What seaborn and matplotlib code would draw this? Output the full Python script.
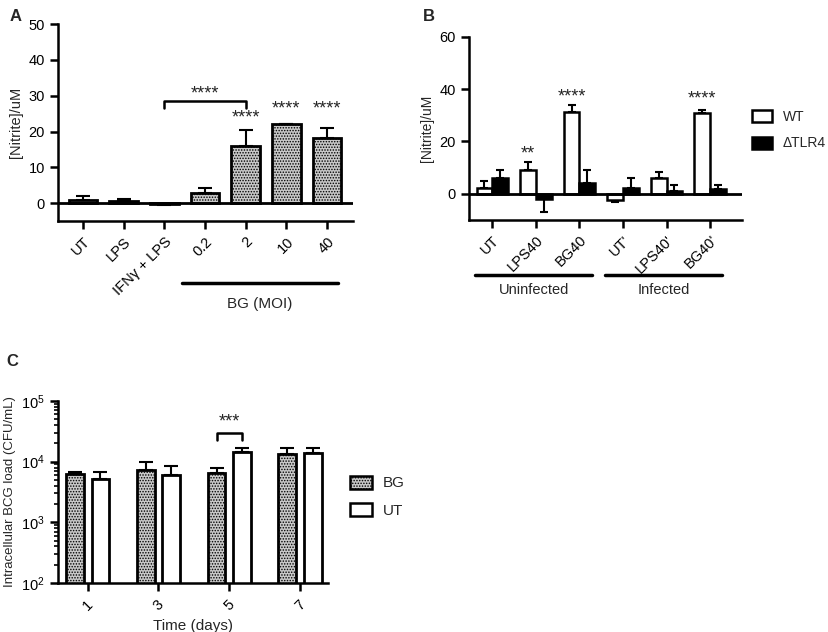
import pandas as pd
import seaborn as sns
import matplotlib.pyplot as plt
import numpy as np
from matplotlib.transforms import blended_transform_factory

# Panel A: nitrite, BG dose response
a_labels = ["UT", "LPS", "IFNγ + LPS", "0.2", "2", "10", "40"]
a_mean = [1.0, 0.6, -0.3, 3.0, 16.0, 22.0, 18.3]
a_err = [1.0, 0.5, 0.1, 1.2, 4.5, 0.2, 2.8]

# Panel B: nitrite WT vs TLR4 knockout
b_labels = ["UT", "LPS40", "BG40", "UT'", "LPS40'", "BG40'"]
b_wt = [2.3, 9.2, 31.3, -2.4, 6.1, 30.8]
b_wt_err = [2.5, 3.1, 2.7, 0.8, 2.1, 1.2]
b_tlr4 = [6.0, -1.9, 4.2, 2.3, 0.9, 2.0]
b_tlr4_err = [2.9, 5.1, 4.7, 3.8, 2.3, 1.2]

# Panel C: intracellular BCG load
c_days = ["1", "3", "5", "7"]
c_bg = [6270, 7290, 6420, 13400]
c_bg_err = [400, 2460, 1540, 3200]
c_ut = [5180, 6100, 14600, 14100]
c_ut_err = [1490, 2280, 2000, 2900]

sns.set_theme(style="ticks")
plt.rcParams["font.family"] = ["Liberation Sans", "DejaVu Sans"]
plt.rcParams["hatch.linewidth"] = 0.7
plt.rcParams["axes.linewidth"] = 1.8
for k in ["xtick", "ytick"]:
    plt.rcParams[k + ".major.width"] = 1.8
    plt.rcParams[k + ".major.size"] = 6
    plt.rcParams[k + ".minor.width"] = 1.2
    plt.rcParams[k + ".minor.size"] = 3
    plt.rcParams[k + ".labelsize"] = 10.5
    plt.rcParams[k + ".color"] = "black"
    plt.rcParams[k + ".labelcolor"] = "black"
plt.rcParams["axes.edgecolor"] = "black"

STIPPLE = "#c8c8c8"
HATCH = "......"
STAR = 13

fig = plt.figure(figsize=(8.29, 6.32), dpi=100)
axA = fig.add_axes([0.070, 0.650, 0.356, 0.312])
axB = fig.add_axes([0.566, 0.652, 0.329, 0.290])
axC = fig.add_axes([0.070, 0.0775, 0.326, 0.288])


def err_bars(ax, xs, ys, es, capsize):
    for x, y, e in zip(xs, ys, es):
        yerr = [[0], [e]] if y >= 0 else [[e], [0]]
        ax.errorbar([x], [y], yerr=yerr, fmt="none", ecolor="black",
                    elinewidth=1.5, capsize=capsize, capthick=1.5, zorder=1)


def centers(ax):
    return [p.get_x() + p.get_width() / 2 for p in ax.patches]


# ---------- A ----------
dfa = pd.DataFrame({"cond": a_labels, "val": a_mean})
sns.barplot(data=dfa, x="cond", y="val", ax=axA, color=STIPPLE, width=0.7,
            errorbar=None, edgecolor="black", linewidth=2, zorder=2)
for p in axA.patches:
    p.set_hatch(HATCH)
xa = centers(axA)
err_bars(axA, xa, a_mean, a_err, 5)
axA.axhline(0, color="black", lw=2, zorder=3)
axA.set_ylim(-5, 50)
axA.set_xlim(-0.61, 6.64)
axA.set_yticks([0, 10, 20, 30, 40, 50])
axA.set_xlabel("")
axA.set_ylabel("[Nitrite]/uM", fontsize=10.5)
axA.set_xticks(range(len(a_labels)))
axA.set_xticklabels(a_labels, rotation=45, ha="right", rotation_mode="anchor")
sns.despine(ax=axA)
# bracket IFN + LPS vs 2
axA.plot([xa[2], xa[2], xa[4], xa[4]], [26.6, 28.4, 28.4, 26.6], color="black", lw=1.8)
axA.text((xa[2] + xa[4]) / 2, 28.2, "****", ha="center", va="bottom", fontsize=STAR)
for i, yy in [(4, 21.5), (5, 24.0), (6, 24.0)]:
    axA.text(xa[i], yy, "****", ha="center", va="bottom", fontsize=STAR)
trA = blended_transform_factory(axA.transData, axA.transAxes)
axA.plot([2.43, 6.27], [-0.315, -0.315], color="black", lw=2.5,
         transform=trA, clip_on=False)
axA.text(4.35, -0.42, "BG (MOI)", transform=trA, ha="center", va="center", fontsize=11)
fig.text(0.012, 0.985, "A", fontsize=12, fontweight="bold", va="top")

# ---------- B ----------
dfb = pd.DataFrame({
    "cond": b_labels * 2,
    "val": b_wt + b_tlr4,
    "geno": ["WT"] * len(b_labels) + ["ΔTLR4"] * len(b_labels),
})
sns.barplot(data=dfb, x="cond", y="val", hue="geno", ax=axB, width=0.72,
            palette={"WT": "white", "ΔTLR4": "black"}, errorbar=None,
            edgecolor="black", linewidth=1.8, zorder=2)
bars_b = [p for p in axB.patches if p.get_width() > 0][:2 * len(b_labels)]
xb = [p.get_x() + p.get_width() / 2 for p in bars_b]
err_bars(axB, xb[:6], b_wt, b_wt_err, 3)
err_bars(axB, xb[6:], b_tlr4, b_tlr4_err, 3)
axB.axhline(0, color="black", lw=2, zorder=3)
axB.set_ylim(-10, 60)
axB.set_xlim(-0.53, 5.73)
axB.set_yticks([0, 20, 40, 60])
axB.set_xlabel("")
axB.set_ylabel("[Nitrite]/uM", fontsize=10)
axB.set_xticks(range(len(b_labels)))
axB.set_xticklabels(b_labels, rotation=45, ha="right", rotation_mode="anchor")
sns.despine(ax=axB)
axB.text(xb[1], 12.0, "**", ha="center", va="bottom", fontsize=STAR)
axB.text(xb[2], 33.8, "****", ha="center", va="bottom", fontsize=STAR)
axB.text(xb[5], 32.8, "****", ha="center", va="bottom", fontsize=STAR)
trB = blended_transform_factory(axB.transData, axB.transAxes)
axB.plot([-0.39, 2.29], [-0.30, -0.30], color="black", lw=2.5, transform=trB, clip_on=False)
axB.plot([2.59, 5.28], [-0.30, -0.30], color="black", lw=2.5, transform=trB, clip_on=False)
axB.text(0.95, -0.385, "Uninfected", transform=trB, ha="center", va="center", fontsize=10.5)
axB.text(3.93, -0.385, "Infected", transform=trB, ha="center", va="center", fontsize=10.5)
legB = axB.legend(loc="upper left", bbox_to_anchor=(1.037, 0.60), frameon=False,
                  fontsize=10, handlelength=1.45, handleheight=0.95, handletextpad=0.75,
                  labelspacing=0.9, borderaxespad=0, borderpad=0)
for h in legB.legend_handles:
    h.set_edgecolor("black")
    h.set_linewidth(1.8)
fig.text(0.510, 0.985, "B", fontsize=12, fontweight="bold", va="top")

# ---------- C ----------
dfc = pd.DataFrame({
    "day": c_days * 2,
    "val": c_bg + c_ut,
    "trt": ["BG"] * len(c_days) + ["UT"] * len(c_days),
})
axC.set_yscale("log")
sns.barplot(data=dfc, x="day", y="val", hue="trt", ax=axC, width=0.72, gap=0.3,
            palette={"BG": STIPPLE, "UT": "white"}, errorbar=None,
            edgecolor="black", linewidth=2, zorder=2)
bars_c = [p for p in axC.patches if p.get_width() > 0][:2 * len(c_days)]
for p in bars_c[:4]:
    p.set_hatch(HATCH)
xc = [p.get_x() + p.get_width() / 2 for p in bars_c]
err_bars(axC, xc[:4], c_bg, c_bg_err, 5)
err_bars(axC, xc[4:], c_ut, c_ut_err, 5)
axC.set_ylim(100, 1e5)
axC.set_xlim(-0.42, 3.40)
axC.set_xlabel("Time (days)", fontsize=11)
axC.set_ylabel("Intracellular BCG load (CFU/mL)", fontsize=9.5)
axC.set_xticks(range(len(c_days)))
axC.set_xticklabels(c_days, rotation=45, ha="center", va="center")
axC.tick_params(axis="x", pad=10)
sns.despine(ax=axC)
axC.plot([xc[2], xc[2], xc[6], xc[6]], [23000, 30000, 30000, 23000], color="black", lw=1.8)
axC.text((xc[2] + xc[6]) / 2, 33000, "***", ha="center", va="bottom", fontsize=STAR)
legC = axC.legend(loc="upper left", bbox_to_anchor=(1.081, 0.59), frameon=False,
                  fontsize=11, handlelength=1.45, handleheight=0.95, handletextpad=0.7,
                  labelspacing=0.8, borderaxespad=0, borderpad=0)
for h in legC.legend_handles:
    h.set_edgecolor("black")
    h.set_linewidth(1.8)
legC.legend_handles[0].set_hatch(HATCH)
fig.text(0.008, 0.44, "C", fontsize=12, fontweight="bold", va="top")

fig.savefig("out.png", dpi=100)
